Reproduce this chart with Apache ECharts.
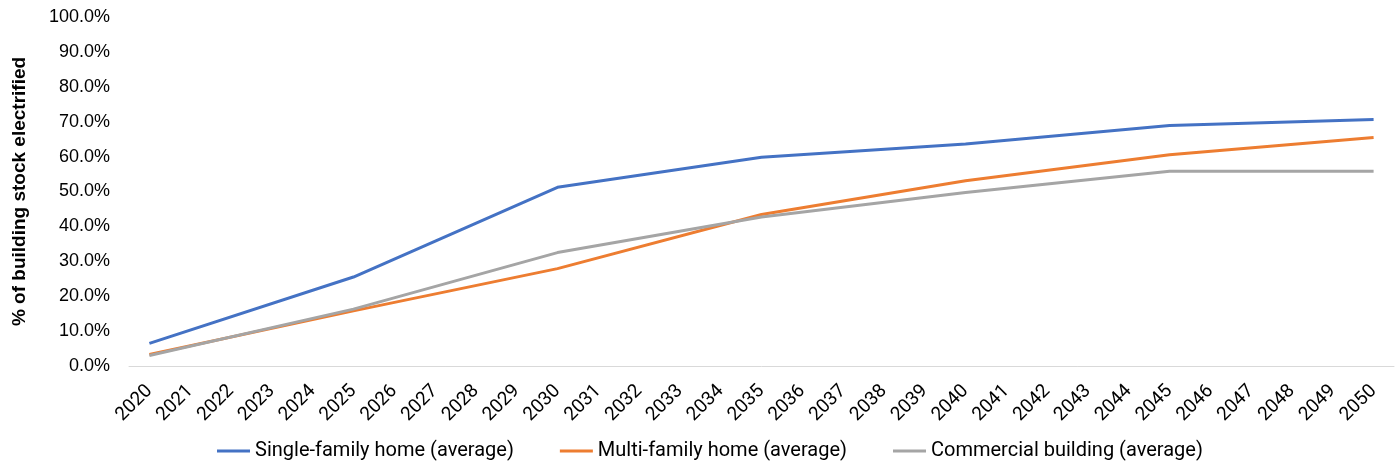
<!DOCTYPE html>
<html>
<head>
<meta charset="utf-8">
<script src="https://cdn.jsdelivr.net/npm/echarts@6/dist/echarts.min.js"></script>
<style>
  html, body { margin: 0; padding: 0; background: #fff; }
  #chart { width: 1395px; height: 469px; }
</style>
</head>
<body>
<div id="chart"></div>
<script>
// years on the x axis
var years = [];
for (var y = 2020; y <= 2050; y++) years.push(String(y));

// values read at the 5-year points, gaps in between are joined with straight lines
var singleFamily = [6.5, null, null, null, null, 25.5, null, null, null, null, 51.2, null, null, null, null, 59.8, null, null, null, null, 63.6, null, null, null, null, 68.9, null, null, null, null, 70.6];
var multiFamily  = [3.3, null, null, null, null, 15.8, null, null, null, null, 27.9, null, null, null, null, 43.4, null, null, null, null, 53.1, null, null, null, null, 60.5, null, null, null, null, 65.5];
var commercial   = [3.0, null, null, null, null, 16.3, null, null, null, null, 32.5, null, null, null, null, 42.7, null, null, null, null, 49.7, null, null, null, null, 55.8, null, null, null, null, 55.8];

var seriesNames = ['Single-family home (average)', 'Multi-family home (average)', 'Commercial building (average)'];
var colors = ['#4472C4', '#ED7D31', '#A5A5A5'];

var chart = echarts.init(document.getElementById('chart'));

function line(name, data, color) {
    return {
        name: name,
        type: 'line',
        data: data,
        connectNulls: true,
        symbol: 'none',
        lineStyle: { width: 3, color: color },
        itemStyle: { color: color }
    };
}

var option = {
    animation: false,
    grid: { left: 129, right: 1, top: 17, bottom: 103 },
    xAxis: {
        type: 'category',
        data: years,
        boundaryGap: true,
        axisLine: { lineStyle: { color: '#D9D9D9', width: 1 } },
        axisTick: { show: false },
        axisLabel: {
            rotate: 45,
            interval: 0,
            margin: 22,
            color: '#000',
            fontSize: 19,
            fontFamily: 'Roboto'
        }
    },
    yAxis: {
        type: 'value',
        min: 0,
        max: 100,
        interval: 10,
        name: '% of building stock electrified',
        nameLocation: 'middle',
        nameGap: 100,
        nameTextStyle: { fontSize: 19, fontWeight: 'bold', color: '#000', fontFamily: 'Liberation Sans' },
        axisLine: { show: false },
        axisTick: { show: false },
        splitLine: { show: false },
        axisLabel: {
            margin: 19,
            color: '#000',
            fontSize: 18,
            fontFamily: 'Liberation Sans',
            formatter: function (v) { return v.toFixed(1) + '%'; }
        }
    },
    legend: {
        bottom: 3,
        left: 212,
        icon: 'rect',
        itemWidth: 33,
        itemHeight: 3,
        itemGap: 46,
        textStyle: { fontSize: 20, color: '#000', fontFamily: 'Roboto' },
        data: seriesNames
    },
    series: [
        line(seriesNames[0], singleFamily, colors[0]),
        line(seriesNames[1], multiFamily, colors[1]),
        line(seriesNames[2], commercial, colors[2])
    ]
};

chart.setOption(option);
</script>
</body>
</html>
